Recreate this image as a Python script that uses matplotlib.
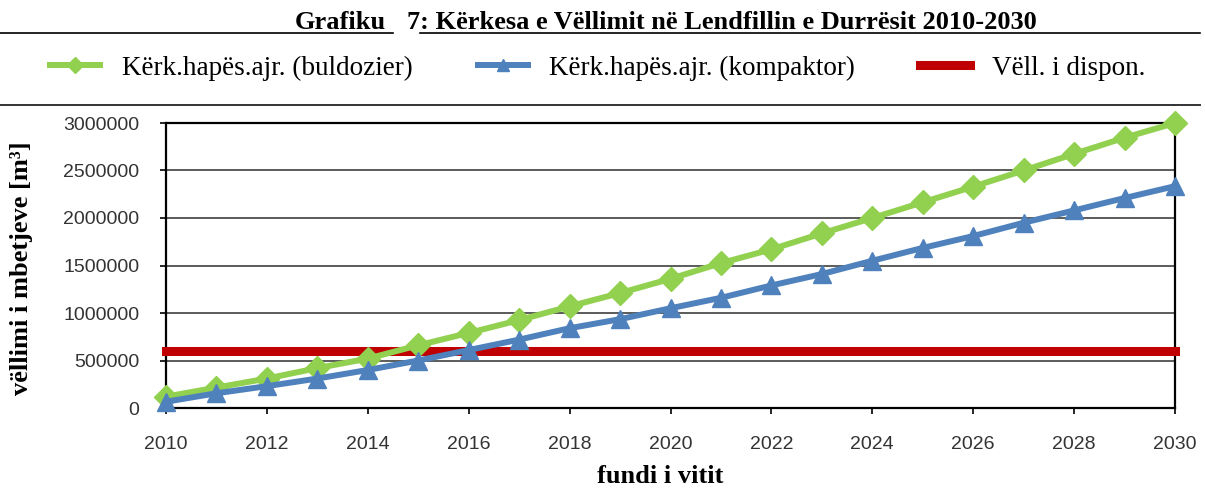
import matplotlib
matplotlib.use('Agg')
import matplotlib.pyplot as plt
from matplotlib.lines import Line2D

years = list(range(2010, 2031))
buldozier = [120000, 215000, 310000, 420000, 520000, 660000, 790000, 925000, 1070000, 1210000,
             1360000, 1525000, 1670000, 1838000, 2000000, 2165000, 2330000, 2500000, 2675000, 2845000,
             3000000]
kompaktor = [66000, 155000, 230000, 310000, 400000, 500000, 610000, 720000, 840000, 935000,
             1050000, 1160000, 1290000, 1410000, 1550000, 1685000, 1810000, 1950000, 2080000, 2210000,
             2335000]
disponueshem = [600000] * len(years)

labels = ['Kërk.hapës.ajr. (buldozier)', 'Kërk.hapës.ajr. (kompaktor)', 'Vëll. i dispon.']
serif = 'Liberation Serif'
sans = 'Liberation Sans'

W, H = 1205, 490
fig = plt.figure(figsize=(W/100, H/100), dpi=100)
ax = fig.add_axes([166/W, 1-408/H, (1175-166)/W, (408-123)/H])

ax.plot(years, buldozier, color='#92D050', lw=4.3, marker='D', ms=12, clip_on=False, zorder=4, label=labels[0])
ax.plot(years, kompaktor, color='#4F81BD', lw=4.3, marker='^', ms=13, clip_on=False, zorder=4, label=labels[1])
ax.plot(years, disponueshem, color='#C00000', lw=6.5, clip_on=False, zorder=3, label=labels[2])

ax.set_xlim(2010, 2030)
ax.set_ylim(0, 3000000)
ax.set_xticks(range(2010, 2031, 2))
ax.set_yticks(range(0, 3000001, 500000))
ax.set_yticklabels([str(v) for v in range(0, 3000001, 500000)])
ax.grid(axis='y', color='#404040', lw=1.2)
ax.set_axisbelow(True)
for s in ax.spines.values():
    s.set_color('black')
    s.set_linewidth(1.6)
ax.tick_params(axis='both', direction='out', length=4, width=1.2, colors='black',
               labelcolor='#333333', labelsize=14)
for t in ax.get_xticklabels() + ax.get_yticklabels():
    t.set_fontfamily(sans)
ax.tick_params(axis='x', pad=16)
ax.tick_params(axis='y', pad=15)

# axis titles
fig.text(22/W, 1-268/H, 'vëllimi i mbetjeve [m³]', rotation=90, ha='center', va='center',
         fontfamily=serif, fontweight='bold', fontsize=19)
fig.text(660/W, 7/H, 'fundi i vitit', ha='center', va='baseline',
         fontfamily=serif, fontweight='bold', fontsize=19)

# chart title with underline
fig.text(295/W, 1-29/H, 'Grafiku', ha='left', va='baseline', fontfamily=serif, fontweight='bold', fontsize=19)
fig.text(407/W, 1-29/H, '7: Kërkesa e Vëllimit në Lendfillin e Durrësit 2010-2030', ha='left', va='baseline',
         fontfamily=serif, fontweight='bold', fontsize=19)
fig.add_artist(Line2D([0, 393/W], [1-33/H]*2, color='black', lw=1.2))
fig.add_artist(Line2D([420/W, 1200/W], [1-33/H]*2, color='black', lw=1.2))
fig.add_artist(Line2D([0, 1200/W], [1-105/H]*2, color='#333333', lw=1.4))

h, l = ax.get_legend_handles_labels()
leg = fig.legend(h, l, loc='center left', bbox_to_anchor=(50/W, 1-68/H), ncol=3, frameon=False,
                 prop={'family': serif, 'size': 19.5}, handlelength=1.85, handletextpad=0.8,
                 columnspacing=2.4, markerscale=0.7, borderpad=0, borderaxespad=0)

fig.savefig('out.png', dpi=100)
